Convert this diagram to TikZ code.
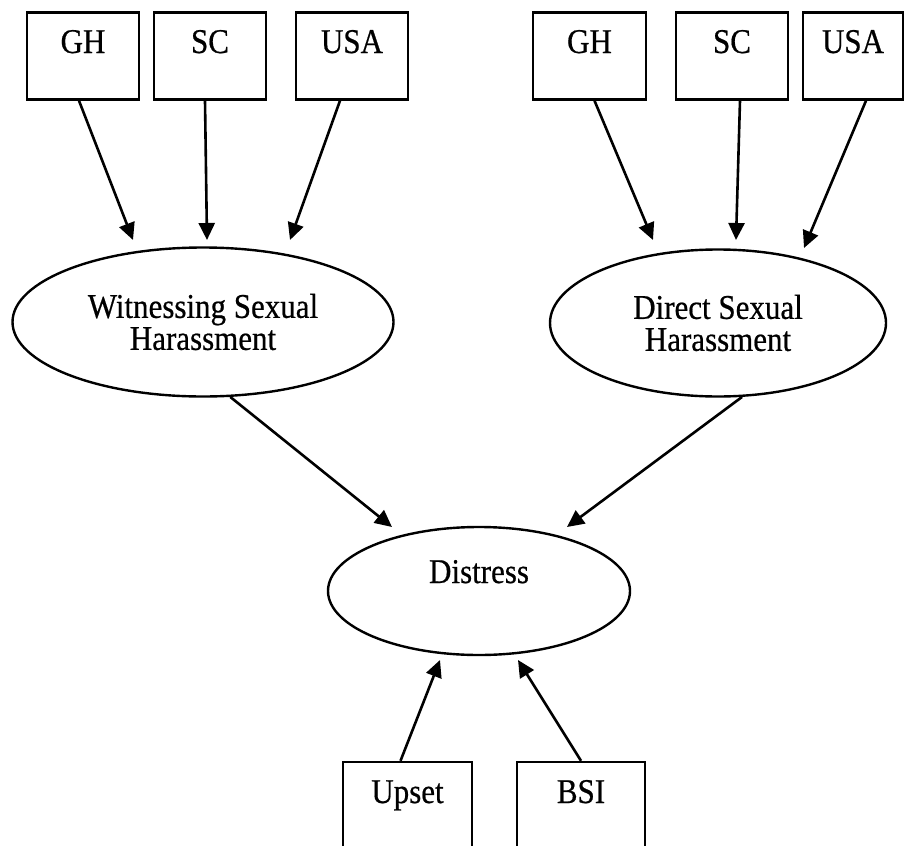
\documentclass[tikz,border=0pt]{standalone}
\usepackage{fontspec}
\usepackage{graphicx}
\setmainfont[FakeBold=0.6]{Liberation Serif}
\usetikzlibrary{arrows.meta,shapes.geometric,calc}
% slightly tall lettering
\newcommand\tallword[1]{\scalebox{1}[1.12]{#1}}

\begin{document}
\begin{tikzpicture}[x=1pt,y=-1pt,
  every node/.style={font=\fontsize{31}{32}\selectfont, inner sep=0pt, line width=2.4pt},
  box/.style={draw, rectangle, minimum height=87pt, text height=22pt, text depth=28pt},
  lowbox/.style={draw, rectangle, minimum height=118pt, text height=22pt, text depth=58pt},
  latent/.style={draw, ellipse, align=center},
  arr/.style={line width=2.6pt, -{Triangle[length=17pt,width=16pt]}}]

\useasboundingbox (0,0) rectangle (905,846);
\clip (0,0) rectangle (905,846);

% indicators, left group
\node[box, minimum width=112pt] (gh1)  at (83,56)  {\tallword{GH}};
\node[box, minimum width=112pt] (sc1)  at (210,56) {\tallword{SC}};
\node[box, minimum width=112pt] (usa1) at (352,56) {\tallword{USA}};

% indicators, right group
\node[box, minimum width=113pt] (gh2)  at (589.5,56) {\tallword{GH}};
\node[box, minimum width=112pt] (sc2)  at (732,56)   {\tallword{SC}};
\node[box, minimum width=100pt] (usa2) at (853,56)   {\tallword{USA}};

% latent variables
\node[latent, minimum width=381pt, minimum height=149pt] (wsh) at (203,322)
  {\tallword{Witnessing Sexual}\\\tallword{Harassment}};
\node[latent, minimum width=336pt, minimum height=147pt] (dsh) at (718,323)
  {\tallword{Direct Sexual}\\\tallword{Harassment}};
\node[latent, minimum width=302pt, minimum height=128pt, text height=21pt, text depth=37pt] (dis) at (479,591)
  {\tallword{Distress}};

% distress indicators
\node[lowbox, minimum width=129pt] (upset) at (407.5,821) {\tallword{Upset}};
\node[lowbox, minimum width=128pt] (bsi)   at (581,821)   {\tallword{BSI}};

% arrow tips
\coordinate (t1) at (133,240);
\coordinate (t2) at (207,240);
\coordinate (t3) at (290,240);
\coordinate (t4) at (653,240);
\coordinate (t5) at (736,240);
\coordinate (t6) at (804,248);
\coordinate (t7) at (392,527);
\coordinate (t8) at (567,527);
\coordinate (t9) at (440,660);
\coordinate (t10) at (518,660);

\draw[arr] ([xshift=-4pt]gh1.south) -- (t1);
\draw[arr] ([xshift=-5pt]sc1.south) -- (t2);
\draw[arr] ([xshift=-12pt]usa1.south) -- (t3);

\draw[arr] ([xshift=5pt]gh2.south) -- (t4);
\draw[arr] ([xshift=8pt]sc2.south) -- (t5);
\draw[arr] ([xshift=13pt]usa2.south) -- (t6);

\draw[arr] (wsh.-70) -- (t7);
\draw[arr] (dsh.-72) -- (t8);

\draw[arr] ([xshift=-7pt]upset.north) -- (t9);
\draw[arr] (bsi.north) -- (t10);

\end{tikzpicture}
\end{document}
